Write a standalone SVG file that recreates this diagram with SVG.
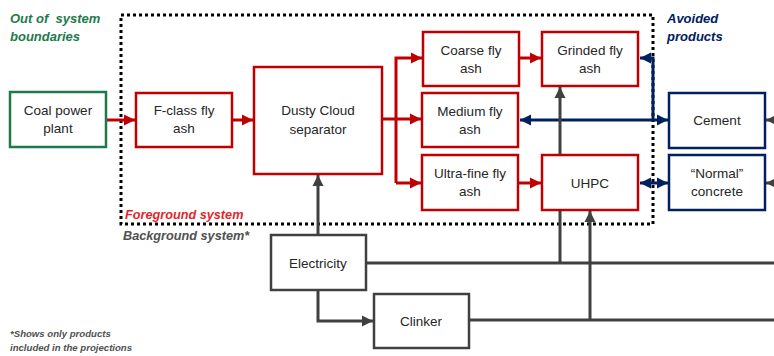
<svg xmlns="http://www.w3.org/2000/svg" width="774" height="356" viewBox="0 0 774 356">
<style>
.t{font-family:"Liberation Sans",Arial,sans-serif;font-size:13.5px;fill:#262626;text-anchor:middle}
.lb{font-family:"Liberation Sans",Arial,sans-serif;font-weight:bold;font-style:italic;white-space:pre}
.rb{fill:#fff;stroke:#c00000;stroke-width:2.5}
.gb{fill:#fff;stroke:#404040;stroke-width:2.5}
.bb{fill:#fff;stroke:#002060;stroke-width:2.5}
.grb{fill:#fff;stroke:#1e7a4c;stroke-width:2.5}
.rl{fill:none;stroke:#c00000;stroke-width:3}
.bl{fill:none;stroke:#002060;stroke-width:3}
.kl{fill:none;stroke:#404040;stroke-width:3}
</style>
<defs>
<marker id="ar" markerUnits="userSpaceOnUse" markerWidth="12" markerHeight="12" viewBox="0 0 12 12" refX="11" refY="6" orient="auto"><path d="M0,0.5 L11,6 L0,11.5 Z" fill="#c00000"/></marker>
<marker id="ab" markerUnits="userSpaceOnUse" markerWidth="12" markerHeight="12" viewBox="0 0 12 12" refX="11" refY="6" orient="auto-start-reverse"><path d="M0,0.5 L11,6 L0,11.5 Z" fill="#002060"/></marker>
<marker id="ak" markerUnits="userSpaceOnUse" markerWidth="12" markerHeight="12" viewBox="0 0 12 12" refX="11" refY="6" orient="auto"><path d="M0,0.5 L11,6 L0,11.5 Z" fill="#404040"/></marker>
</defs>

<g id="labels">
<text class="lb" x="10" y="23" font-size="13" fill="#1e7a4c">Out of  system</text>
<text class="lb" x="10" y="41" font-size="13" fill="#1e7a4c">boundaries</text>
<text class="lb" x="667" y="23" font-size="13" fill="#002060">Avoided</text>
<text class="lb" x="667" y="41" font-size="13" fill="#002060">products</text>
<text class="lb" x="125" y="219" font-size="12.7" fill="#e3262b">Foreground system</text>
<text class="lb" x="123" y="240" font-size="12.7" fill="#505050">Background system*</text>
<text class="lb" x="10" y="337" font-size="9.6" fill="#505050">*Shows only products</text>
<text class="lb" x="10" y="351" font-size="9.6" fill="#505050">included in the projections</text>
</g>

<g id="boundary">
<path d="M121,15 H653 V224 H121 Z" fill="none" stroke="#000" stroke-width="3" stroke-dasharray="3 3"/>
</g>

<g id="connectors">
<path class="rl" d="M106,120 H135" marker-end="url(#ar)"/>
<path class="rl" d="M232,120 H253" marker-end="url(#ar)"/>
<path class="rl" d="M382,119 H421" marker-end="url(#ar)"/>
<path class="rl" d="M396,183 V58 H422" marker-end="url(#ar)"/>
<path class="rl" d="M396,183 H421" marker-end="url(#ar)"/>
<path class="rl" d="M519,58 H541" marker-end="url(#ar)"/>
<path class="rl" d="M518,183 H541" marker-end="url(#ar)"/>
<path class="bl" d="M520,120 H668" marker-start="url(#ab)" marker-end="url(#ab)"/>
<path class="bl" d="M653,120 V58 H640" marker-end="url(#ab)"/>
<path class="bl" d="M640,183 H668" marker-start="url(#ab)" marker-end="url(#ab)"/>
<path class="kl" d="M785,120 H766" marker-end="url(#ak)"/>
<path class="kl" d="M785,183 H766" marker-end="url(#ak)"/>
<path class="kl" d="M318,235 V175" marker-end="url(#ak)"/>
<path class="kl" d="M318,290 V321 H373" marker-end="url(#ak)"/>
<path class="kl" d="M366,263 H774"/>
<path class="kl" d="M560,263 V210"/>
<path class="kl" d="M560,154 V87" marker-end="url(#ak)"/>
<path class="kl" d="M469,320 H774"/>
<path class="kl" d="M590,320 V211" marker-end="url(#ak)"/>
</g>

<g id="coal"><rect class="grb" x="10" y="92" width="96" height="55"/><text class="t" x="58" y="115">Coal power</text><text class="t" x="58" y="133">plant</text></g>
<g id="fclass"><rect class="rb" x="136" y="93" width="96" height="54"/><text class="t" x="184" y="115">F-class fly</text><text class="t" x="184" y="133">ash</text></g>
<g id="dusty"><rect class="rb" x="254" y="67" width="128" height="107"/><text class="t" x="318" y="115">Dusty Cloud</text><text class="t" x="318" y="134">separator</text></g>
<g id="coarse"><rect class="rb" x="423" y="32" width="96" height="54"/><text class="t" x="471" y="55">Coarse fly</text><text class="t" x="471" y="73">ash</text></g>
<g id="medium"><rect class="rb" x="422" y="93" width="96" height="54"/><text class="t" x="470" y="116">Medium fly</text><text class="t" x="470" y="134">ash</text></g>
<g id="ultrafine"><rect class="rb" x="422" y="155" width="96" height="55"/><text class="t" x="470" y="178">Ultra-fine fly</text><text class="t" x="470" y="196">ash</text></g>
<g id="grinded"><rect class="rb" x="542" y="32" width="96" height="54"/><text class="t" x="590" y="55">Grinded fly</text><text class="t" x="590" y="73">ash</text></g>
<g id="uhpc"><rect class="rb" x="542" y="155" width="96" height="55"/><text class="t" x="590" y="188">UHPC</text></g>
<g id="cement"><rect class="bb" x="669" y="93" width="96" height="55"/><text class="t" x="717" y="125">Cement</text></g>
<g id="concrete"><rect class="bb" x="669" y="155" width="96" height="55"/><text class="t" x="717" y="178">“Normal”</text><text class="t" x="717" y="196">concrete</text></g>
<g id="electricity"><rect class="gb" x="271" y="235" width="95" height="55"/><text class="t" x="318" y="268">Electricity</text></g>
<g id="clinker"><rect class="gb" x="374" y="294" width="95" height="54"/><text class="t" x="421" y="326">Clinker</text></g>
</svg>
